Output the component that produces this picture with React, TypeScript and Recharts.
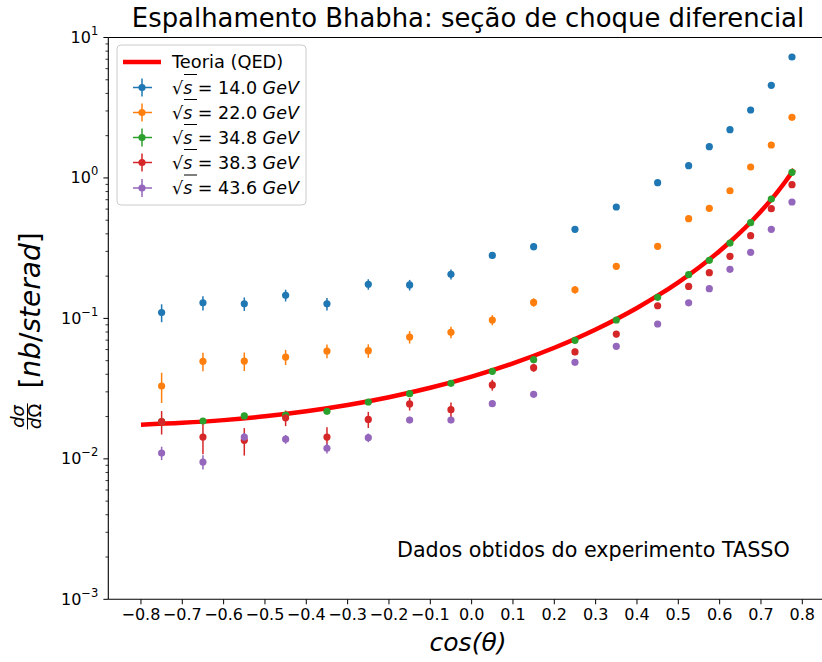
import React from "react";
import { ComposedChart, Line, Scatter, ErrorBar, XAxis, YAxis, ReferenceLine } from "recharts";

// cos(theta) bins shared by all TASSO data sets
const cosTheta = [
  -0.75, -0.65, -0.55, -0.45, -0.35, -0.25, -0.15, -0.05, 0.05, 0.15, 0.25, 0.35, 0.45, 0.525, 0.575,
  0.625, 0.675, 0.725, 0.775,
];

const xs14 = [0.11, 0.129, 0.127, 0.146, 0.127, 0.175, 0.173, 0.206, 0.281, 0.324, 0.431, 0.621, 0.925, 1.222, 1.669, 2.206, 3.047, 4.566, 7.265];
const xs14Err = [0.016, 0.015, 0.014, 0.014, 0.013, 0.015, 0.015, 0.017, 0.016, 0.018, 0.02, 0.03, 0.04, 0.05, 0.06, 0.07, 0.1, 0.15, 0.2];

const xs22 = [0.033, 0.0495, 0.0497, 0.0531, 0.0586, 0.0589, 0.0737, 0.0796, 0.0974, 0.13, 0.16, 0.235, 0.326, 0.513, 0.608, 0.811, 1.197, 1.717, 2.703];
const xs22Err = [0.008, 0.0075, 0.0075, 0.0065, 0.0065, 0.0065, 0.0075, 0.0075, 0.008, 0.009, 0.01, 0.012, 0.012, 0.015, 0.02, 0.025, 0.03, 0.05, 0.07];

const xs348 = [0.0184, 0.0186, 0.0202, 0.0205, 0.0218, 0.0254, 0.0291, 0.0345, 0.042, 0.0508, 0.0698, 0.0974, 0.1413, 0.2047, 0.2593, 0.344, 0.48, 0.708, 1.097];
const xs348Err = [0.0006, 0.0006, 0.0006, 0.0006, 0.0006, 0.0007, 0.0008, 0.001, 0.0012, 0.0015, 0.002, 0.003, 0.004, 0.006, 0.008, 0.01, 0.014, 0.02, 0.03];

const xs383 = [0.0184, 0.0143, 0.01355, 0.0196, 0.0143, 0.0191, 0.0246, 0.0224, 0.0336, 0.0446, 0.0577, 0.0774, 0.123, 0.169, 0.2115, 0.2767, 0.388, 0.604, 0.895];
const xs383Err = [0.0035, 0.0035, 0.003, 0.0025, 0.0025, 0.0025, 0.0025, 0.0028, 0.003, 0.003, 0.003, 0.004, 0.004, 0.005, 0.006, 0.008, 0.01, 0.015, 0.025];

const xs436 = [0.011, 0.0095, 0.0143, 0.0138, 0.0119, 0.01415, 0.0189, 0.0189, 0.0247, 0.0288, 0.0487, 0.0633, 0.0912, 0.129, 0.1627, 0.2237, 0.2955, 0.431, 0.674];
const xs436Err = [0.0012, 0.0011, 0.001, 0.001, 0.001, 0.001, 0.001, 0.001, 0.001, 0.001, 0.0015, 0.002, 0.003, 0.004, 0.004, 0.006, 0.008, 0.012, 0.018];

// QED curve
const theoryCos = [-0.8, -0.7, -0.6, -0.5, -0.4, -0.3, -0.2, -0.1, 0, 0.1, 0.2, 0.3, 0.4, 0.45, 0.5, 0.55, 0.6, 0.625, 0.65, 0.675, 0.7, 0.72, 0.74, 0.76, 0.78];
const theoryVals = [0.0175, 0.01804, 0.01887, 0.02009, 0.02181, 0.02418, 0.02747, 0.03205, 0.03852, 0.04787, 0.0618, 0.0834, 0.1187, 0.1451, 0.1808, 0.2305, 0.302, 0.3499, 0.4093, 0.4839, 0.5792, 0.6758, 0.7969, 0.951, 1.1514];

const energies = ["14.0", "22.0", "34.8", "38.3", "43.6"];
const colors = ["#1f77b4", "#ff7f0e", "#2ca02c", "#d62728", "#9467bd"];
const values = [xs14, xs22, xs348, xs383, xs436];
const errors = [xs14Err, xs22Err, xs348Err, xs383Err, xs436Err];

const xTicks = [-0.8, -0.7, -0.6, -0.5, -0.4, -0.3, -0.2, -0.1, 0, 0.1, 0.2, 0.3, 0.4, 0.5, 0.6, 0.7, 0.8];
const yMajor = [0.001, 0.01, 0.1, 1, 10];
const yTicks = yMajor.flatMap((d, i) =>
  i === yMajor.length - 1 ? [d] : [1, 2, 3, 4, 5, 6, 7, 8, 9].map((m) => +(d * m).toPrecision(2)),
);

const FONT = "'DejaVu Sans', sans-serif";
const W = 830;
const H = 662;
const LEFT = 108.3;
const TOP = 37.5;
const BOTTOM = 599.3;
const MID_Y = (TOP + BOTTOM) / 2;

const theory = theoryCos.map((x, i) => ({ x, y: theoryVals[i] }));
const series = energies.map((e, k) => ({
  energy: e,
  color: colors[k],
  data: cosTheta.map((x, i) => ({ x, y: values[k][i], e: errors[k][i] })),
}));

function YTick({ x, y, payload }: any) {
  const lg = Math.log10(payload.value);
  const exp = Math.round(lg);
  if (Math.abs(lg - exp) > 1e-6) {
    return <line x1={x} x2={x - 2.8} y1={y} y2={y} stroke="#000" strokeWidth={0.8} />;
  }
  return (
    <g>
      <line x1={x} x2={x - 4.9} y1={y} y2={y} stroke="#000" strokeWidth={1} />
      <text x={x - 10} y={y + 5.5} textAnchor="end" fontSize={16} fontFamily={FONT} fill="#000">
        10
        <tspan dy={-8} fontSize={11.5}>
          {exp < 0 ? "\u2212" + Math.abs(exp) : String(exp)}
        </tspan>
      </text>
    </g>
  );
}

function Dot({ cx, cy, fill }: any) {
  return <circle cx={cx} cy={cy} r={3.6} fill={fill} />;
}

function Legend() {
  const rows = [62, 87.5, 112.5, 137.5, 162.5, 188];
  return (
    <g>
      <rect x={117} y={45} width={189} height={160} rx={4} fill="#fff" fillOpacity={0.8} stroke="#cccccc" />
      <line x1={123} x2={161} y1={rows[0]} y2={rows[0]} stroke="#ff0000" strokeWidth={4.5} />
      <text x={172} y={rows[0] + 6} fontSize={17.8} fontFamily={FONT}>
        Teoria (QED)
      </text>
      {series.map((s, i) => {
        const cy = rows[i + 1];
        return (
          <g key={s.energy}>
            <line x1={133} x2={152} y1={cy} y2={cy} stroke={s.color} strokeWidth={1.5} />
            <line x1={142} x2={142} y1={cy - 9} y2={cy + 9} stroke={s.color} strokeWidth={1.5} />
            <circle cx={142} cy={cy} r={3.6} fill={s.color} />
            <line x1={184} x2={197} y1={cy - 13} y2={cy - 13} stroke="#000" strokeWidth={1} />
            <text x={172} y={cy + 6} fontSize={17.5} fontFamily={FONT}>
              {"\u221a"}
              <tspan fontStyle="italic">s</tspan>
              <tspan>{" = " + s.energy + " "}</tspan>
              <tspan fontStyle="italic">GeV</tspan>
            </text>
          </g>
        );
      })}
    </g>
  );
}

export default function App() {
  return (
    <div
      style={{
        position: "absolute",
        left: 0,
        top: 0,
        width: 822,
        height: 662,
        overflow: "hidden",
        background: "#fff",
      }}
    >
      <ComposedChart
        width={W}
        height={H}
        margin={{ top: TOP, right: W - 826.7, bottom: 0, left: 0 }}
      >
        <XAxis
          type="number"
          dataKey="x"
          domain={[-0.879, 0.859]}
          allowDataOverflow
          ticks={xTicks}
          interval={0}
          height={H - BOTTOM}
          tickFormatter={(v: number) => v.toFixed(1).replace("-", "\u2212")}
          tick={{ fontSize: 16, fontFamily: FONT, fill: "#000" }}
          tickSize={5}
          tickMargin={4}
          stroke="#000"
          axisLine={{ stroke: "#000", strokeWidth: 1.1 }}
          tickLine={{ stroke: "#000", strokeWidth: 1 }}
          label={{
            content: () => (
              <text x={468} y={651} textAnchor="middle" fontSize={25} fontStyle="italic" fontFamily={FONT}>
                cos(θ)
              </text>
            ),
          }}
        />
        <YAxis
          type="number"
          scale="log"
          domain={[0.001, 10]}
          allowDataOverflow
          ticks={yTicks}
          interval={0}
          width={LEFT}
          tick={<YTick />}
          tickLine={false}
          tickSize={0}
          tickMargin={0}
          axisLine={{ stroke: "#000", strokeWidth: 1.1 }}
          label={{
            content: () => (
              <g transform={`translate(40, ${MID_Y}) rotate(-90)`} fontFamily={FONT}>
                <text x={-98} y={-16.5} textAnchor="middle" fontSize={18} fontStyle="italic">
                  dσ
                </text>
                <line x1={-111} x2={-85} y1={-12.5} y2={-12.5} stroke="#000" strokeWidth={1} />
                <text x={-98} y={1} textAnchor="middle" fontSize={18}>
                  <tspan fontStyle="italic">d</tspan>Ω
                </text>
                <text x={-70} y={0} fontSize={28}>
                  [<tspan fontStyle="italic">nb</tspan>/<tspan fontStyle="italic">sterad</tspan>]
                </text>
              </g>
            ),
          }}
        />
        <ReferenceLine y={10} stroke="#000" strokeWidth={1.1} ifOverflow="visible" />
        <Line
          data={theory}
          dataKey="y"
          type="monotone"
          stroke="#ff0000"
          strokeWidth={4.5}
          dot={false}
          activeDot={false}
          isAnimationActive={false}
        />
        {series.map((s) => (
          <Scatter
            key={s.energy}
            data={s.data}
            dataKey="y"
            fill={s.color}
            shape={<Dot fill={s.color} />}
            isAnimationActive={false}
          >
            <ErrorBar dataKey="e" direction="y" width={0} stroke={s.color} strokeWidth={1.5} isAnimationActive={false} />
          </Scatter>
        ))}
      </ComposedChart>
      <svg
        width={822}
        height={662}
        style={{ position: "absolute", left: 0, top: 0, pointerEvents: "none" }}
      >
        <text x={468} y={27} textAnchor="middle" fontSize={25.9} fontFamily={FONT}>
          Espalhamento Bhabha: seção de choque diferencial
        </text>
        <text x={397} y={557} fontSize={20.7} fontFamily={FONT}>
          Dados obtidos do experimento TASSO
        </text>
        <Legend />
      </svg>
    </div>
  );
}
